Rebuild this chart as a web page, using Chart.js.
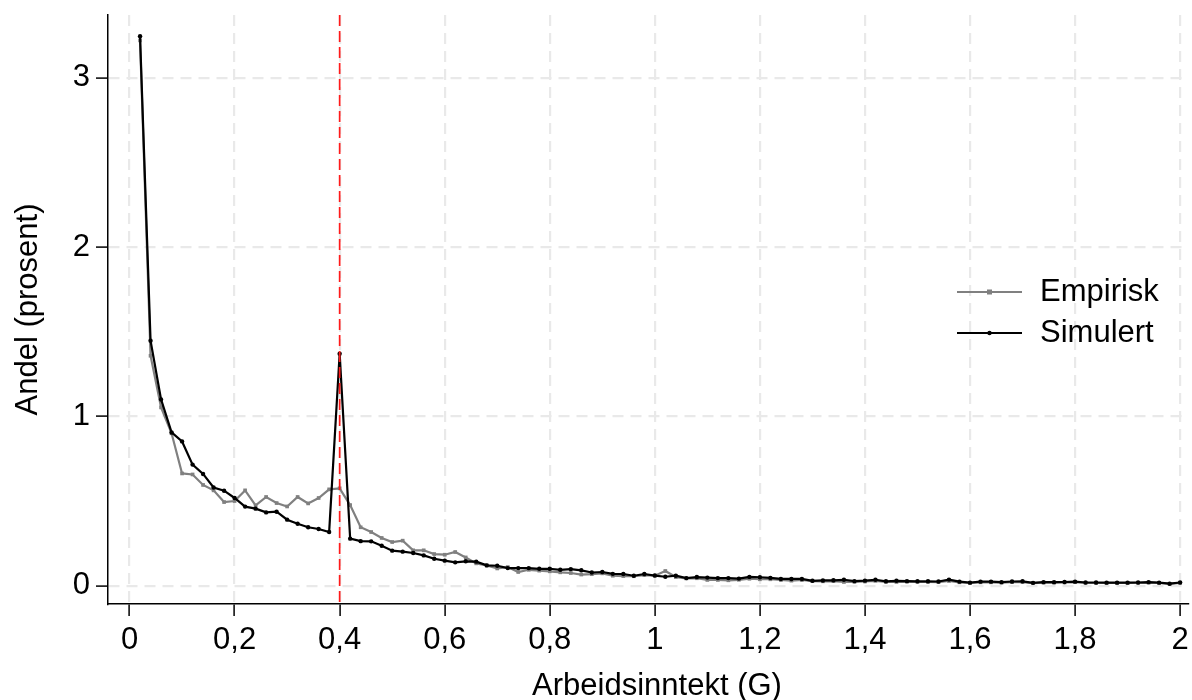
<!DOCTYPE html>
<html><head><meta charset="utf-8">
<script src="https://cdn.jsdelivr.net/npm/chart.js@4/dist/chart.umd.min.js"></script>
<style>html,body{margin:0;padding:0;background:#fff;}canvas{display:block;}</style>
</head><body>
<canvas id="c" width="1192" height="700"></canvas>
<script>
const xValues = [0.02,0.04,0.06,0.08,0.10,0.12,0.14,0.16,0.18,0.20,
  0.22,0.24,0.26,0.28,0.30,0.32,0.34,0.36,0.38,0.40,
  0.42,0.44,0.46,0.48,0.50,0.52,0.54,0.56,0.58,0.60,
  0.62,0.64,0.66,0.68,0.70,0.72,0.74,0.76,0.78,0.80,
  0.82,0.84,0.86,0.88,0.90,0.92,0.94,0.96,0.98,1.00,
  1.02,1.04,1.06,1.08,1.10,1.12,1.14,1.16,1.18,1.20,
  1.22,1.24,1.26,1.28,1.30,1.32,1.34,1.36,1.38,1.40,
  1.42,1.44,1.46,1.48,1.50,1.52,1.54,1.56,1.58,1.60,
  1.62,1.64,1.66,1.68,1.70,1.72,1.74,1.76,1.78,1.80,
  1.82,1.84,1.86,1.88,1.90,1.92,1.94,1.96,1.98,2.00];

const empirisk = [3.22,1.358,1.053,0.90,0.663,0.657,0.595,0.563,0.494,0.50,
  0.563,0.474,0.524,0.488,0.468,0.524,0.486,0.518,0.569,0.575,
  0.476,0.345,0.317,0.282,0.258,0.266,0.209,0.209,0.187,0.183,
  0.199,0.167,0.132,0.12,0.102,0.11,0.081,0.094,0.089,0.085,
  0.079,0.075,0.066,0.068,0.073,0.059,0.057,0.056,0.063,0.059,
  0.087,0.051,0.043,0.044,0.034,0.034,0.032,0.035,0.041,0.038,
  0.038,0.034,0.030,0.034,0.027,0.026,0.027,0.022,0.023,0.025,
  0.029,0.022,0.022,0.024,0.022,0.022,0.021,0.028,0.020,0.016,
  0.020,0.020,0.018,0.021,0.021,0.015,0.018,0.018,0.019,0.021,
  0.017,0.016,0.016,0.016,0.016,0.017,0.018,0.016,0.011,0.017];

const simulert = [3.245,1.447,1.10,0.905,0.852,0.715,0.66,0.58,0.561,0.518,
  0.467,0.455,0.433,0.437,0.39,0.366,0.345,0.335,0.317,1.37,
  0.278,0.263,0.262,0.236,0.207,0.201,0.193,0.179,0.159,0.148,
  0.138,0.144,0.142,0.12,0.118,0.104,0.104,0.104,0.10,0.10,
  0.094,0.098,0.091,0.078,0.081,0.07,0.069,0.059,0.069,0.06,
  0.053,0.059,0.045,0.051,0.048,0.045,0.045,0.042,0.052,0.05,
  0.046,0.04,0.04,0.04,0.029,0.031,0.032,0.035,0.027,0.03,
  0.035,0.026,0.029,0.027,0.026,0.026,0.025,0.036,0.024,0.018,
  0.024,0.024,0.021,0.025,0.026,0.017,0.021,0.021,0.022,0.024,
  0.019,0.019,0.018,0.018,0.018,0.019,0.021,0.018,0.012,0.019];

const xTicks = [0,0.2,0.4,0.6,0.8,1,1.2,1.4,1.6,1.8,2];
const yTicks = [0,1,2,3];
const markerX = 0.4;
const seriesNames = ['Empirisk','Simulert'];
const xTitle = 'Arbeidsinntekt (G)';
const yTitle = 'Andel (prosent)';

const FONT = "'Liberation Sans', Arial, sans-serif";

function toPoints(ys){ return ys.map((y,i)=>({x:xValues[i], y:y})); }

const refLine = {
  id:'refLine',
  afterDatasetsDraw(chart){
    const {ctx, chartArea, scales} = chart;
    const px = scales.x.getPixelForValue(markerX);
    ctx.save();
    ctx.strokeStyle = '#ff1a1a';
    ctx.lineWidth = 1.7;
    ctx.setLineDash([11,5]);
    ctx.beginPath();
    ctx.moveTo(px, chartArea.top);
    ctx.lineTo(px, chartArea.bottom);
    ctx.stroke();
    ctx.restore();
  }
};

const customText = {
  id:'customText',
  afterDraw(chart){
    const {ctx} = chart;
    const x0 = 957, x1 = 1022, tx = 1040;
    const rows = [292, 333];
    ctx.save();
    chart.data.datasets.forEach((ds, i)=>{
      const y = rows[i];
      ctx.strokeStyle = ds.borderColor;
      ctx.lineWidth = 2;
      ctx.setLineDash([]);
      ctx.beginPath(); ctx.moveTo(x0,y); ctx.lineTo(x1,y); ctx.stroke();
      ctx.fillStyle = ds.pointBackgroundColor;
      const cx = (x0+x1)/2;
      if (ds.pointStyle === 'rect') ctx.fillRect(cx-2.5, y-2.5, 5, 5);
      else { ctx.beginPath(); ctx.arc(cx, y, 2.2, 0, Math.PI*2); ctx.fill(); }
      ctx.fillStyle = '#000';
      ctx.font = '31px ' + FONT;
      ctx.textBaseline = 'middle';
      ctx.textAlign = 'left';
      ctx.fillText(ds.label, tx, y);
    });
    // x axis title
    ctx.fillStyle = '#000';
    ctx.font = '31px ' + FONT;
    ctx.textAlign = 'center';
    ctx.textBaseline = 'middle';
    ctx.fillText(xTitle, 657, 686);
    ctx.restore();
  }
};

new Chart(document.getElementById('c'), {
  type:'line',
  data:{
    datasets:[
      {label:seriesNames[0], data:toPoints(empirisk), borderColor:'#808080', backgroundColor:'#808080',
       pointBackgroundColor:'#808080', pointBorderWidth:0, pointRadius:2.6, pointStyle:'rect',
       borderWidth:2.2, tension:0, order:1},
      {label:seriesNames[1], data:toPoints(simulert), borderColor:'#000000', backgroundColor:'#000000',
       pointBackgroundColor:'#000000', pointBorderWidth:0, pointRadius:2.2, pointStyle:'circle',
       borderWidth:2.2, tension:0, order:0}
    ]
  },
  options:{
    responsive:false,
    animation:false,
    devicePixelRatio:1,
    layout:{padding:{top:15,right:0,left:0,bottom:0}},
    plugins:{legend:{display:false}, tooltip:{enabled:false}},
    scales:{
      x:{
        type:'linear', min:-0.041, max:2.015,
        afterBuildTicks(s){ s.ticks = xTicks.map(v=>({value:v})); },
        afterFit(s){ s.height = 96; s.paddingLeft = 0; s.paddingRight = 0; },
        ticks:{color:'#000', padding:6, maxRotation:0, autoSkip:false,
          font:{family:FONT, size:31},
          callback:(v)=>String(Math.round(v*10)/10).replace('.',',')},
        grid:{color:'#e9e9e9', lineWidth:2.2, tickColor:'#000', tickLength:12, tickWidth:1.5, tickBorderDash:[]},
        border:{color:'#000', width:1.5, dash:[11,7]},
        title:{display:false}
      },
      y:{
        type:'linear', min:-0.108, max:3.37,
        afterBuildTicks(s){ s.ticks = yTicks.map(v=>({value:v})); },
        afterFit(s){ s.width = 108; s.paddingTop = 0; s.paddingBottom = 0; },
        ticks:{color:'#000', padding:6, font:{family:FONT, size:31},
          callback:(v)=>String(v)},
        grid:{color:'#e9e9e9', lineWidth:2.2, tickColor:'#000', tickLength:12, tickWidth:1.5, tickBorderDash:[]},
        border:{color:'#000', width:1.5, dash:[11,7]},
        title:{display:true, text:yTitle, color:'#000', font:{family:FONT, size:31}, padding:{top:10,bottom:0}}
      }
    }
  },
  plugins:[refLine, customText]
});
</script>
</body></html>
